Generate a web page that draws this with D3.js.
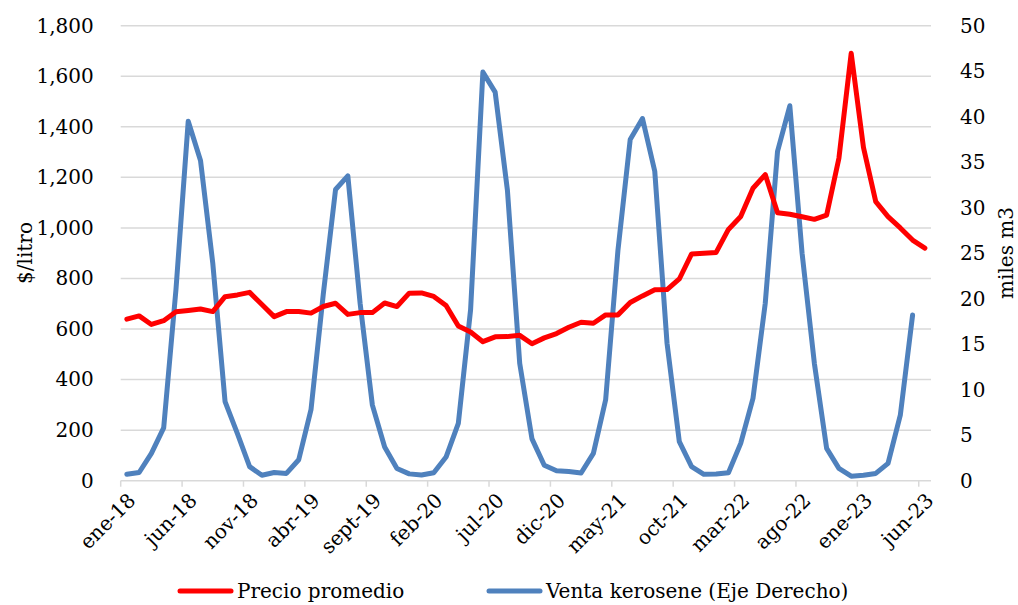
<!DOCTYPE html>
<html>
<head>
<meta charset="utf-8">
<script src="https://cdn.jsdelivr.net/npm/d3@7"></script>
<style>
  html, body { margin: 0; padding: 0; background: #fff; }
  svg { display: block; }
</style>
</head>
<body>
<svg id="chart" width="1018" height="605"></svg>
<script>
const categories = [
  "ene-18","feb-18","mar-18","abr-18","may-18","jun-18","jul-18","ago-18","sept-18","oct-18","nov-18","dic-18",
  "ene-19","feb-19","mar-19","abr-19","may-19","jun-19","jul-19","ago-19","sept-19","oct-19","nov-19","dic-19",
  "ene-20","feb-20","mar-20","abr-20","may-20","jun-20","jul-20","ago-20","sept-20","oct-20","nov-20","dic-20",
  "ene-21","feb-21","mar-21","abr-21","may-21","jun-21","jul-21","ago-21","sept-21","oct-21","nov-21","dic-21",
  "ene-22","feb-22","mar-22","abr-22","may-22","jun-22","jul-22","ago-22","sept-22","oct-22","nov-22","dic-22",
  "ene-23","feb-23","mar-23","abr-23","may-23","jun-23"
];
const precioPromedio = [
  639, 652, 618, 633, 668, 673, 679, 669, 728, 735, 745, 697,
  649, 669, 669, 663, 689, 702, 658, 665, 665, 703, 689, 742,
  743, 729, 693, 612, 588, 550, 569, 570, 575, 542, 565, 582,
  607, 627, 623, 656, 656, 705, 731, 755, 756, 798, 897, 900,
  903, 994, 1045, 1157, 1211, 1060, 1054, 1044, 1034, 1051, 1276, 1691,
  1318, 1104, 1045, 1000, 952, 920
];
const ventaKerosene = [
  0.7, 0.9, 3.0, 5.8, 21.0, 39.5, 35.2, 23.9, 8.7, 5.2, 1.55, 0.6,
  0.9, 0.8, 2.3, 7.8, 20.5, 32.0, 33.5, 19.5, 8.3, 3.7, 1.35, 0.75,
  0.62, 0.88, 2.6, 6.3, 18.8, 44.9, 42.7, 31.9, 12.9, 4.6, 1.7, 1.1,
  1.0, 0.85, 3.0, 8.9, 25.3, 37.5, 39.8, 34.0, 15.1, 4.3, 1.55, 0.7,
  0.73, 0.88, 4.1, 9.05, 19.5, 36.2, 41.2, 25.0, 12.9, 3.55, 1.36, 0.5,
  0.6, 0.8, 1.9, 7.2, 18.2, null
];
const xTickLabels = ["ene-18","jun-18","nov-18","abr-19","sept-19","feb-20","jul-20","dic-20","may-21","oct-21","mar-22","ago-22","ene-23","jun-23"];
const leftTicks = [0, 200, 400, 600, 800, 1000, 1200, 1400, 1600, 1800];
const rightTicks = [0, 5, 10, 15, 20, 25, 30, 35, 40, 45, 50];
const seriesNames = ["Precio promedio", "Venta kerosene (Eje Derecho)"];
const seriesColors = ["#ff0000", "#4f81bd"];
const leftTitle = "$/litro";
const rightTitle = "miles m3";

const FONT = "'DejaVu Serif', serif";
const svg = d3.select("#chart");
const plot = { left: 120.7, right: 931, top: 25.7, bottom: 480.7 };
const fontSize = 20;

function styleText(sel) {
  sel.attr("font-family", FONT).style("font-family", FONT).style("font-size", fontSize + "px").attr("fill", "#000");
}

const xBand = d3.scaleBand().domain(categories).range([plot.left, plot.right]).paddingInner(0).paddingOuter(0);
const xc = d => xBand(d) + xBand.bandwidth() / 2;
const yL = d3.scaleLinear().domain([0, 1800]).range([plot.bottom, plot.top]);
const yR = d3.scaleLinear().domain([0, 50]).range([plot.bottom, plot.top]);

// gridlines
svg.append("g").selectAll("line").data(leftTicks.filter(d => d > 0)).join("line")
  .attr("x1", plot.left).attr("x2", plot.right)
  .attr("y1", d => yL(d)).attr("y2", d => yL(d))
  .attr("stroke", "#d9d9d9").attr("stroke-width", 1.5);

// bottom axis line & ticks
svg.append("line").attr("x1", plot.left).attr("x2", plot.right)
  .attr("y1", plot.bottom).attr("y2", plot.bottom)
  .attr("stroke", "#d9d9d9").attr("stroke-width", 1.5);
svg.append("g").selectAll("line").data(xTickLabels).join("line")
  .attr("x1", d => xBand(d)).attr("x2", d => xBand(d))
  .attr("y1", plot.bottom).attr("y2", plot.bottom + 6)
  .attr("stroke", "#d9d9d9").attr("stroke-width", 1.5);

// left axis labels
const gL = svg.append("g").attr("transform", `translate(${plot.left},0)`)
  .call(d3.axisLeft(yL).tickValues(leftTicks).tickFormat(d3.format(",")).tickSize(0).tickPadding(27));
gL.select(".domain").remove();
gL.attr("font-family", FONT);
styleText(gL.selectAll("text"));

// right axis labels
const gR = svg.append("g").attr("transform", `translate(${plot.right},0)`)
  .call(d3.axisRight(yR).tickValues(rightTicks).tickFormat(d3.format("d")).tickSize(0).tickPadding(29));
gR.select(".domain").remove();
gR.attr("font-family", FONT);
styleText(gR.selectAll("text"));

// x labels rotated
styleText(svg.append("g").selectAll("text").data(xTickLabels).join("text")
  .attr("transform", d => `translate(${xc(d) + 10},${plot.bottom + 21}) rotate(-45)`)
  .attr("text-anchor", "end")
  .text(d => d));

// axis titles
styleText(svg.append("text").attr("transform", `translate(32,253) rotate(-90)`)
  .attr("text-anchor", "middle").text(leftTitle));
styleText(svg.append("text").attr("transform", `translate(1013,253) rotate(-90)`)
  .attr("text-anchor", "middle").text(rightTitle));

// lines
const linePrecio = d3.line().x((d, i) => xc(categories[i])).y(d => yL(d));
const lineVenta = d3.line().defined(d => d !== null).x((d, i) => xc(categories[i])).y(d => yR(d));

svg.append("path").datum(ventaKerosene).attr("d", lineVenta)
  .attr("fill", "none").attr("stroke", seriesColors[1]).attr("stroke-width", 5)
  .attr("stroke-linejoin", "round").attr("stroke-linecap", "round");
svg.append("path").datum(precioPromedio).attr("d", linePrecio)
  .attr("fill", "none").attr("stroke", seriesColors[0]).attr("stroke-width", 5)
  .attr("stroke-linejoin", "round").attr("stroke-linecap", "round");

// legend
const legendItems = [
  { name: seriesNames[0], color: seriesColors[0], x: 180 },
  { name: seriesNames[1], color: seriesColors[1], x: 489 }
];
const lg = svg.append("g").selectAll("g").data(legendItems).join("g")
  .attr("transform", d => `translate(${d.x},591)`);
lg.append("line").attr("x1", 0).attr("x2", 51).attr("y1", 0).attr("y2", 0)
  .attr("stroke", d => d.color).attr("stroke-width", 5).attr("stroke-linecap", "round");
styleText(lg.append("text").attr("x", 57).attr("y", 7).text(d => d.name));
</script>
</body>
</html>
